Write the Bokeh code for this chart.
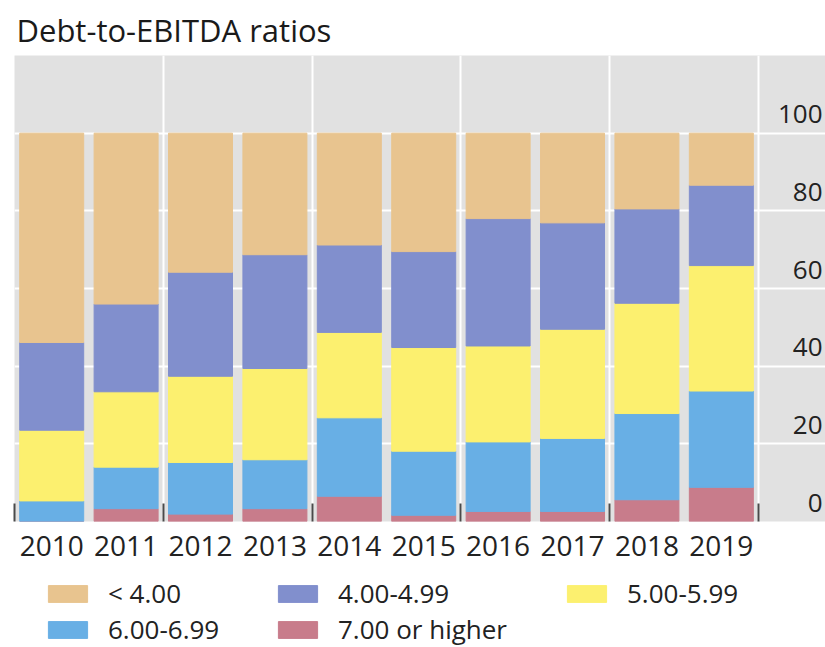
from bokeh.plotting import figure
from bokeh.layouts import column
from bokeh.models import FixedTicker, Legend, LegendItem, Range1d, ColumnDataSource
from bokeh.core.properties import value
from bokeh.embed import file_html
from bokeh.resources import INLINE

# ---- data (percent of deals) ----
years = ["2010", "2011", "2012", "2013", "2014", "2015", "2016", "2017", "2018", "2019"]
lt4 = [53.9, 44.0, 35.8, 31.3, 28.8, 30.5, 22.0, 23.1, 19.5, 13.4]
r4_5 = [22.6, 22.6, 26.8, 29.3, 22.5, 24.7, 32.8, 27.4, 24.3, 20.7]
r5_6 = [18.2, 19.4, 22.2, 23.5, 22.0, 26.7, 24.7, 28.1, 28.4, 32.3]
r6_7 = [5.3, 10.7, 13.3, 12.6, 20.2, 16.5, 17.9, 18.8, 22.2, 24.8]
r7p = [0.0, 3.3, 1.9, 3.3, 6.5, 1.6, 2.6, 2.6, 5.6, 8.8]

series_keys = ["r7p", "r6_7", "r5_6", "r4_5", "lt4"]
series_labels = ["7.00 or higher", "6.00-6.99", "5.00-5.99", "4.00-4.99", "< 4.00"]
colors = ["#C87C8B", "#68AFE5", "#FCF06F", "#818FCD", "#E8C48F"]

y_ticks = [0, 20, 40, 60, 80, 100]
y_labels = ["0", "20", "40", "60", "80", "100"]

# legend layout: (label, column, row)
legend_layout = [("< 4.00", 0, 0), ("4.00-4.99", 1, 0), ("5.00-5.99", 2, 0),
                 ("6.00-6.99", 0, 1), ("7.00 or higher", 1, 1)]
legend_col_x = [29, 259, 548]   # legend anchor x in the strip
legend_row_y = [36, 0]          # px of item bottom above the strip bottom

FONT = "Open Sans"
TEXT = "#222222"

xs = list(range(len(years)))
group_edges = [i - 0.5 for i in range(0, len(years) + 1, 2)]
x_end = len(years) + 0.4

source = ColumnDataSource(dict(x=xs, r7p=r7p, r6_7=r6_7, r5_6=r5_6, r4_5=r4_5, lt4=lt4))

MAIN_H = 575
p = figure(width=825, height=MAIN_H, output_backend="svg", toolbar_location=None,
           x_range=Range1d(-0.5, x_end), y_range=Range1d(0, 120),
           y_axis_location=None,
           min_border_left=14, min_border_right=0, min_border_top=55, min_border_bottom=MAIN_H - 521)

p.background_fill_color = "#E1E1E1"
p.border_fill_color = "white"
p.outline_line_color = None

p.title.text = "Debt-to-EBITDA ratios"
p.title.text_font = FONT
p.title.text_font_size = "31px"
p.title.text_font_style = "normal"
p.title.text_color = "#1a1a1a"
p.title.align = "left"
p.title.offset = 2

renderers = p.vbar_stack(series_keys, x="x", width=0.86, color=colors, source=source)

# grids
p.ygrid.ticker = FixedTicker(ticks=y_ticks)
p.ygrid.grid_line_color = "white"
p.ygrid.grid_line_width = 2
p.xgrid.ticker = FixedTicker(ticks=group_edges)
p.xgrid.grid_line_color = "white"
p.xgrid.grid_line_width = 2

# x axis
ax = p.xaxis[0]
ax.ticker = FixedTicker(ticks=xs, minor_ticks=group_edges)
ax.major_label_overrides = {x: y for x, y in zip(xs, years)}
ax.axis_line_color = None
ax.major_tick_line_color = None
ax.major_tick_in = 0
ax.major_tick_out = 0
ax.minor_tick_in = 18
ax.minor_tick_out = 0
ax.minor_tick_line_color = "#4a4a4a"
ax.minor_tick_line_width = 2
ax.major_label_text_font = FONT
ax.major_label_text_font_size = "28px"
ax.major_label_text_color = TEXT
ax.major_label_standoff = 14

# y labels on the right, inside the gray area
p.text(x=[x_end] * len(y_ticks), y=y_ticks, text=y_labels,
       text_align="right", text_baseline="alphabetic", x_offset=-3, y_offset=-19,
       text_font=value(FONT), text_font_size="26px", text_color=TEXT)

# ---- legend strip (proxy bars share the data but lie outside its ranges) ----
LEG_H = 647 - MAIN_H
q = figure(width=825, height=LEG_H, output_backend="svg", toolbar_location=None,
           x_range=Range1d(100, 101), y_range=Range1d(100, 101),
           x_axis_location=None, y_axis_location=None, min_border=0)
q.outline_line_color = None
q.grid.visible = False
q.background_fill_color = "white"
q.border_fill_color = "white"

proxies = q.vbar_stack(series_keys, x="x", width=0.86, color=colors, source=source)
proxy = dict(zip(series_labels, proxies))

for lab, col, row in legend_layout:
    leg = Legend(items=[LegendItem(label=lab, renderers=[proxy[lab]])],
                 location=(legend_col_x[col], legend_row_y[row]), orientation="vertical",
                 glyph_width=49, glyph_height=21, label_standoff=16, spacing=0,
                 padding=0, margin=0, border_line_color=None, background_fill_alpha=0,
                 label_text_font=FONT, label_text_font_size="26px", label_text_color=TEXT,
                 label_height=21)
    q.add_layout(leg, "center")

layout = column(p, q, spacing=0)
open("out.html", "w").write(file_html(layout, INLINE))
